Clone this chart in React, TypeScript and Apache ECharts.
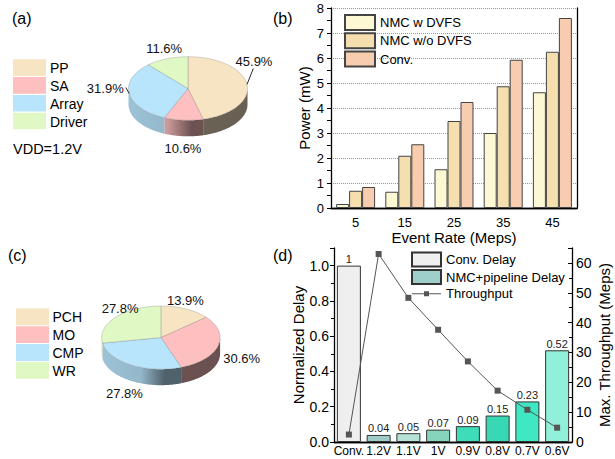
import React, { useEffect, useRef } from "react";
import * as echarts from "echarts";

const FONT = "'Liberation Sans', Arial, Helvetica, sans-serif";

// ---------- Panel (a): pie, VDD = 1.2V ----------
const pieACategories = ["PP", "SA", "Array", "Driver"];
const pieAValues = [45.9, 10.6, 31.9, 11.6];

// ---------- Panel (c): pie ----------
const pieCCategories = ["PCH", "MO", "CMP", "WR"];
const pieCValues = [13.9, 30.6, 27.8, 27.8];

const pieColors = ["#f7e4c3", "#fdbfbf", "#b9e5fc", "#e0f8c4"];

// ---------- Panel (b): power vs event rate ----------
const rateCategories = ["5", "15", "25", "35", "45"];
const powerSeriesNames = ["NMC w DVFS", "NMC w/o DVFS", "Conv."];
const powerNmcDvfs = [0.16, 0.65, 1.55, 3.0, 4.63];
const powerNmcNoDvfs = [0.69, 2.09, 3.48, 4.87, 6.25];
const powerConv = [0.84, 2.55, 4.24, 5.93, 7.6];
const powerColors = ["#fcf8d3", "#f5dfae", "#f8ccae"];

// ---------- Panel (d): delay & throughput ----------
const delaySeriesNames = ["Conv. Delay", "NMC+pipeline Delay", "Throughput"];
const voltageCategories = ["Conv.", "1.2V", "1.1V", "1V", "0.9V", "0.8V", "0.7V", "0.6V"];
const convDelay = [1, null, null, null, null, null, null, null];
const nmcDelay = [null, 0.04, 0.05, 0.07, 0.09, 0.15, 0.23, 0.52];
const throughput = [2.5, 63, 48.3, 37.6, 27, 17.2, 10.8, 4.8];
const nmcColors = ["#9ecfca", "#9ccbc8", "#b6e3d8", "#86d4bc", "#3edcb8", "#39d8b4", "#3fe7c2", "#90f0d9"];

// ---------- layout (not data) ----------
const pieAGeom = { cx: 188, cy: 88.5, rx: 59.5, ry: 31.8, h: 16 };
const pieCGeom = { cx: 160.9, cy: 337.6, rx: 59.2, ry: 31.6, h: 16 };
const pieALabelPos = [[66, -26.6], [-5, 60], [-82.7, 0.3], [-23.8, -40.2]];
const pieCLabelPos = [[24.5, -37.1], [80.8, 20.7], [-36.5, 55.4], [-40.8, -29.6]];
const pieALeaderEnds: (number[] | null)[] = [[65.3, -20], null, [-62.2, -1], null];
const pieCLeaderEnds: (number[] | null)[] = [null, null, null, null];

const LINE_MARKER_ICON =
  "path://M0,0L0.01,0L0.01,0.01Z M29,14L28.99,14L28.99,13.99Z M0,6.5H29V7.5H0Z M12,4.5H17V9.5H12Z";

function shade(hex: string, f: number) {
  const n = parseInt(hex.slice(1), 16);
  const r = Math.round(((n >> 16) & 255) * f);
  const g = Math.round(((n >> 8) & 255) * f);
  const b = Math.round((n & 255) * f);
  return `rgb(${r},${g},${b})`;
}

function sideGradient(c: string, g: any) {
  return new echarts.graphic.LinearGradient(
    g.cx - g.rx,
    0,
    g.cx + g.rx,
    0,
    [
      { offset: 0, color: shade(c, 0.85) },
      { offset: 0.33, color: shade(c, 0.8) },
      { offset: 0.53, color: shade(c, 0.43) },
      { offset: 1, color: shade(c, 0.42) },
    ],
    true
  );
}

function pieSeries(values: number[], colors: string[], g: any, labelPos: number[][], leaderEnds: (number[] | null)[]) {
  const total = values.reduce((s, v) => s + v, 0);
  return {
    type: "custom",
    coordinateSystem: "none",
    silent: true,
    data: values.map((v) => [v]),
    renderItem: (params: any, api: any) => {
      const i = params.dataIndex;
      let before = 0;
      for (let k = 0; k < i; k++) before += values[k];
      const a0 = -Math.PI / 2 + (before / total) * Math.PI * 2;
      const a1 = a0 + (api.value(0) / total) * Math.PI * 2;
      const pt = (t: number, dy = 0) => [g.cx + g.rx * Math.cos(t), g.cy + g.ry * Math.sin(t) + dy];
      const arc = (s: number, e: number, dy = 0) => {
        const n = Math.max(2, Math.ceil((e - s) / 0.02));
        const out: number[][] = [];
        for (let j = 0; j <= n; j++) out.push(pt(s + ((e - s) * j) / n, dy));
        return out;
      };
      const children: any[] = [];
      const s0 = Math.max(a0, 0);
      const s1 = Math.min(a1, Math.PI);
      if (s1 > s0) {
        const pts = arc(s0, s1).concat(arc(s0, s1, g.h).reverse());
        children.push({
          type: "polygon",
          z2: 1,
          shape: { points: pts },
          style: { fill: sideGradient(colors[i], g) },
        });
      }
      children.push({
        type: "polygon",
        z2: 10,
        shape: { points: [[g.cx, g.cy]].concat(arc(a0, a1)) },
        style: { fill: colors[i], stroke: "rgba(110,110,110,0.55)", lineWidth: 0.5 },
      });
      const mid = (a0 + a1) / 2;
      const le = leaderEnds[i];
      if (le) {
        const p = pt(mid);
        children.push({
          type: "line",
          z2: 20,
          shape: { x1: p[0], y1: p[1], x2: g.cx + le[0], y2: g.cy + le[1] },
          style: { stroke: "#111", lineWidth: 0.9 },
        });
      }
      children.push({
        type: "text",
        z2: 20,
        x: g.cx + labelPos[i][0],
        y: g.cy + labelPos[i][1],
        style: {
          text: values[i].toFixed(1) + "%",
          fill: "#111",
          fontSize: 13,
          fontFamily: FONT,
          align: "center",
          verticalAlign: "middle",
        },
      });
      return { type: "group", children };
    },
  };
}

function pieLegend(cats: string[], x: number, y0: number, step: number, w: number, h: number, textX: number) {
  const out: any[] = [];
  cats.forEach((c, i) => {
    out.push({
      type: "rect",
      shape: { x, y: y0 + i * step, width: w, height: h },
      style: { fill: pieColors[i] },
    });
    out.push({
      type: "text",
      x: textX,
      y: y0 + i * step + h / 2 + 0.5,
      style: { text: c, fill: "#000", fontSize: 14, fontFamily: FONT, align: "left", verticalAlign: "middle" },
    });
  });
  return out;
}

function panelLabel(t: string, x: number, y: number) {
  return {
    type: "text",
    x,
    y,
    style: { text: t, fill: "#000", fontSize: 16, fontFamily: FONT, align: "left", verticalAlign: "middle" },
  };
}

const axisLineStyle = { color: "#000", width: 1.3 };
const axisLabelBase = { color: "#000", fontFamily: FONT };

const option: any = {
  animation: false,
  backgroundColor: "#fff",
  textStyle: { fontFamily: FONT, color: "#000" },
  graphic: [
    panelLabel("(a)", 12, 18),
    panelLabel("(b)", 273, 18),
    panelLabel("(c)", 8, 255),
    panelLabel("(d)", 273, 255),
    ...pieLegend(pieACategories, 13, 59.3, 17.8, 33, 16.6, 50),
    {
      type: "text",
      x: 13,
      y: 149,
      style: { text: "VDD=1.2V", fill: "#000", fontSize: 14.5, fontFamily: FONT, align: "left", verticalAlign: "middle" },
    },
    ...pieLegend(pieCCategories, 16, 308.5, 17.8, 33, 16.8, 52.5),
  ],
  grid: [
    { left: 331, top: 8, width: 246, height: 200 },
    { left: 334, top: 248, width: 238, height: 194 },
  ],
  legend: [
    {
      data: powerSeriesNames.map((n) => ({ name: n, icon: "rect" })),
      orient: "vertical",
      left: 344,
      top: 14,
      padding: 0,
      itemWidth: 30,
      itemHeight: 15,
      itemGap: 1.3,
      textStyle: { fontSize: 13, color: "#000", fontFamily: FONT },
    },
    {
      data: [
        { name: delaySeriesNames[0], icon: "rect" },
        { name: delaySeriesNames[1], icon: "rect" },
        { name: delaySeriesNames[2], icon: LINE_MARKER_ICON, itemStyle: { borderWidth: 0, color: "#555" } },
      ],
      orient: "vertical",
      left: 411,
      top: 251.5,
      padding: 0,
      itemWidth: 29,
      itemHeight: 14,
      itemGap: 1.6,
      textStyle: { fontSize: 13, color: "#000", fontFamily: FONT },
    },
  ],
  xAxis: [
    {
      gridIndex: 0,
      type: "category",
      data: rateCategories,
      axisLine: { lineStyle: axisLineStyle },
      axisTick: { show: false },
      axisLabel: { ...axisLabelBase, fontSize: 13, margin: 8, interval: 0 },
      name: "Event Rate (Meps)",
      nameLocation: "middle",
      nameGap: 19,
      nameTextStyle: { fontSize: 15, color: "#000", fontFamily: FONT },
    },
    {
      gridIndex: 0,
      type: "category",
      position: "top",
      data: rateCategories,
      axisLine: { lineStyle: axisLineStyle },
      axisTick: { show: false },
      axisLabel: { show: false },
    },
    {
      gridIndex: 1,
      type: "category",
      data: voltageCategories,
      axisLine: { lineStyle: axisLineStyle },
      axisTick: { show: false },
      axisLabel: { ...axisLabelBase, fontSize: 12, margin: 3, interval: 0 },
    },
    {
      gridIndex: 1,
      type: "category",
      position: "top",
      data: voltageCategories,
      axisLine: { lineStyle: axisLineStyle },
      axisTick: { show: false },
      axisLabel: { show: false },
    },
  ],
  yAxis: [
    {
      gridIndex: 0,
      type: "value",
      min: 0,
      max: 8,
      interval: 1,
      axisLine: { show: true, lineStyle: axisLineStyle },
      axisTick: { show: true, length: 4, lineStyle: { color: "#000" } },
      minorTick: { show: true, splitNumber: 2, length: 4, lineStyle: { color: "#000" } },
      splitLine: { show: true, lineStyle: { type: "dotted", color: "#999", width: 1 } },
      axisLabel: { ...axisLabelBase, fontSize: 13, margin: 7 },
      name: "Power (mW)",
      nameLocation: "middle",
      nameGap: 19,
      nameTextStyle: { fontSize: 15, color: "#000", fontFamily: FONT },
    },
    {
      gridIndex: 0,
      type: "value",
      position: "right",
      min: 0,
      max: 8,
      interval: 1,
      axisLine: { show: true, lineStyle: axisLineStyle },
      axisTick: { show: false },
      axisLabel: { show: false },
      splitLine: { show: false },
    },
    {
      gridIndex: 1,
      type: "value",
      min: 0,
      max: 1.1,
      interval: 0.2,
      axisLine: { show: true, lineStyle: axisLineStyle },
      axisTick: { show: true, length: 4, lineStyle: { color: "#000" } },
      minorTick: { show: true, splitNumber: 2, length: 3, lineStyle: { color: "#000" } },
      splitLine: { show: false },
      axisLabel: {
        ...axisLabelBase,
        fontSize: 14,
        margin: 5,
        showMaxLabel: false,
        formatter: (v: number) => v.toFixed(1),
      },
      name: "Normalized Delay",
      nameLocation: "middle",
      nameGap: 28,
      nameTextStyle: { fontSize: 15, color: "#000", fontFamily: FONT },
    },
    {
      gridIndex: 1,
      type: "value",
      position: "right",
      min: 0,
      max: 65,
      interval: 10,
      axisLine: { show: true, lineStyle: axisLineStyle },
      axisTick: { show: true, inside: true, length: 4, lineStyle: { color: "#000" } },
      minorTick: { show: true, splitNumber: 2, length: 3, lineStyle: { color: "#000" } },
      splitLine: { show: false },
      axisLabel: { ...axisLabelBase, fontSize: 14, margin: 4, showMaxLabel: false },
      name: "Max. Throughput (Meps)",
      nameLocation: "middle",
      nameGap: 25,
      nameTextStyle: { fontSize: 15, color: "#000", fontFamily: FONT },
    },
  ],
  series: [
    pieSeries(pieAValues, pieColors, pieAGeom, pieALabelPos, pieALeaderEnds),
    pieSeries(pieCValues, pieColors, pieCGeom, pieCLabelPos, pieCLeaderEnds),
    ...[powerNmcDvfs, powerNmcNoDvfs, powerConv].map((d, i) => ({
      type: "bar",
      name: powerSeriesNames[i],
      xAxisIndex: 0,
      yAxisIndex: 0,
      data: d,
      barWidth: 13,
      barGap: "0%",
      itemStyle: { color: powerColors[i], borderColor: "#444", borderWidth: 1 },
    })),
    {
      type: "bar",
      name: delaySeriesNames[0],
      xAxisIndex: 2,
      yAxisIndex: 2,
      data: convDelay.map((v) => (v == null ? "-" : v)),
      barWidth: 24,
      barGap: "-100%",
      itemStyle: { color: "#efefef", borderColor: "#333", borderWidth: 1 },
      label: { show: true, position: "top", distance: 1, fontSize: 11, color: "#222", fontFamily: FONT },
    },
    {
      type: "bar",
      name: delaySeriesNames[1],
      xAxisIndex: 2,
      yAxisIndex: 2,
      data: nmcDelay.map((v, i) => (v == null ? "-" : { value: v, itemStyle: { color: nmcColors[i] } })),
      barWidth: 24,
      barGap: "-100%",
      itemStyle: { color: nmcColors[0], borderColor: "#333", borderWidth: 1 },
      label: { show: true, position: "top", distance: 1, fontSize: 11, color: "#222", fontFamily: FONT },
    },
    {
      type: "line",
      name: delaySeriesNames[2],
      xAxisIndex: 2,
      yAxisIndex: 3,
      data: throughput,
      symbol: "rect",
      symbolSize: 6,
      itemStyle: { color: "#555" },
      lineStyle: { color: "#555", width: 1 },
      z: 5,
    },
  ],
};

export default function App() {
  const ref = useRef<HTMLDivElement>(null);
  useEffect(() => {
    const chart = echarts.init(ref.current as HTMLDivElement, null, { renderer: "svg" });
    chart.setOption(option);
    return () => chart.dispose();
  }, []);
  return (
    <div
      ref={ref}
      style={{ position: "absolute", left: 0, top: 0, width: 615, height: 459, background: "#fff" }}
    />
  );
}
